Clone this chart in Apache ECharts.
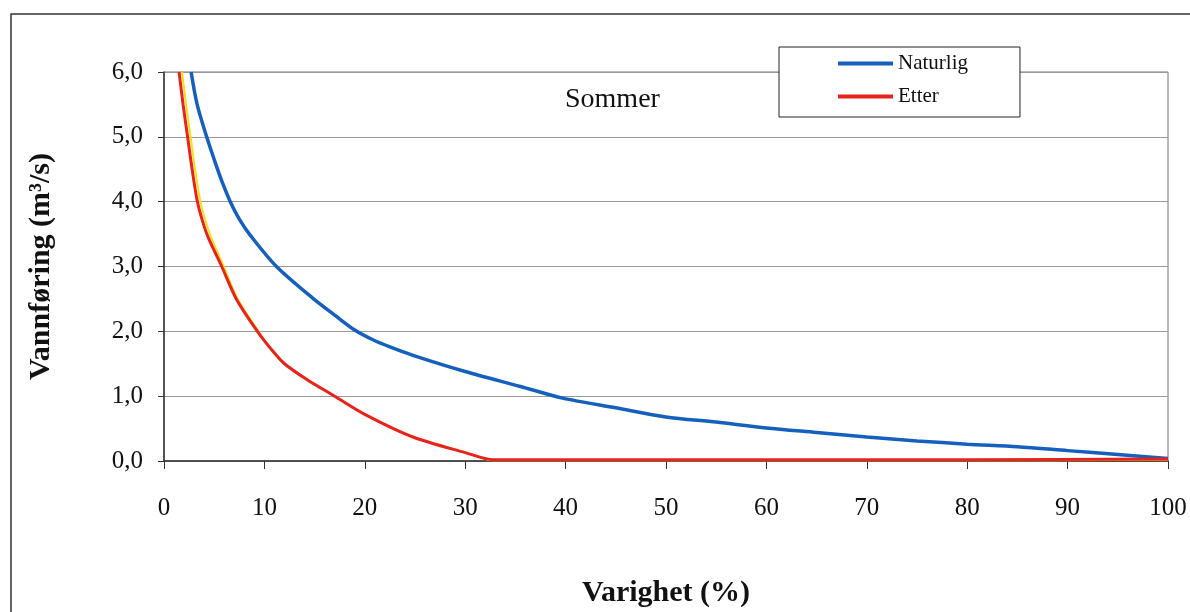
<!DOCTYPE html>
<html lang="no">
<head>
  <meta charset="UTF-8">
  <title>Varighetskurve sommer</title>
  <style>
    html, body { margin:0; padding:0; background:#fff; }
    #chart { width:1190px; height:612px; }
  </style>
</head>
<body>
  <div id="chart"></div>
  <script src="https://cdn.jsdelivr.net/npm/echarts@6/dist/echarts.min.js"></script>
  <script>
    // varighet (%) og vannføring (m3/s), lest av figuren
    var naturligPct = [2.7, 3.3, 4.25, 5.0, 5.8, 6.6, 7.5, 8.6, 11.2, 14.9, 17.0, 19.0, 20.8, 22.5, 24.8, 30, 35.5, 39.7, 45, 50, 55, 60, 65, 70, 75, 80, 85, 90, 95, 100]
    var naturligVal = [6.0, 5.5, 5.0, 4.65, 4.3, 4.0, 3.73, 3.48, 3.0, 2.5, 2.25, 2.02, 1.87, 1.76, 1.63, 1.38, 1.15, 0.97, 0.82, 0.68, 0.6, 0.51, 0.44, 0.37, 0.31, 0.26, 0.22, 0.16, 0.1, 0.04]

    var etterPct = [1.5, 1.9, 2.35, 2.8, 3.3, 3.8, 4.4, 5.75, 7.2, 9.3, 10.6, 12.0, 14.3, 17.0, 20, 24.8, 30, 32.8, 40, 60, 80, 100]
    var etterVal = [6.0, 5.5, 5.0, 4.5, 4.02, 3.72, 3.45, 3.0, 2.5, 2.0, 1.74, 1.5, 1.25, 1.0, 0.72, 0.37, 0.13, 0.02, 0.02, 0.02, 0.02, 0.03]

    // tynn gul linje som ligger rett ved siden av "Etter"
    var gulPct = [1.8, 2.2, 2.65, 3.1, 3.6, 4.1, 4.7, 5.95, 7.35, 9.4, 10.6, 12.0, 14.3, 17.0, 20, 24.8, 30, 32.8, 40, 60, 80, 100]
    var gulVal = [6.0, 5.5, 5.0, 4.5, 4.02, 3.72, 3.45, 3.0, 2.5, 2.0, 1.74, 1.5, 1.25, 1.0, 0.72, 0.37, 0.13, 0.01, 0.01, 0.01, 0.01, 0.02]

    var xTicks = [0, 10, 20, 30, 40, 50, 60, 70, 80, 90, 100]
    var yTicks = [0, 1, 2, 3, 4, 5, 6]

    function pairs(xs, ys) {
      return xs.map(function (x, i) { return [x, ys[i]] })
    }

    var serif = 'Liberation Serif'
    var myChart = echarts.init(document.getElementById('chart'))
    var option = {
      animation: false,
      backgroundColor: '#fff',
      textStyle: { fontFamily: serif },
      title: {
        text: 'Sommer',
        left: 565,
        top: 86,
        padding: 0,
        textStyle: { fontFamily: serif, fontWeight: 'normal', fontSize: 28, color: '#111' }
      },
      legend: {
        data: ['Naturlig', 'Etter'],
        orient: 'vertical',
        left: 779,
        top: 47,
        padding: [6, 52, 10, 59],
        itemGap: 12,
        itemWidth: 55,
        itemHeight: 4,
        icon: 'rect',
        backgroundColor: '#fff',
        borderColor: '#222',
        borderWidth: 1,
        borderRadius: 0,
        textStyle: { fontFamily: serif, fontSize: 21, color: '#111' }
      },
      grid: {
        left: 164,
        right: 22,
        top: 72,
        bottom: 151,
        outerBoundsMode: 'none',
        show: true,
        borderColor: '#777',
        borderWidth: 1
      },
      xAxis: {
        type: 'value',
        min: xTicks[0],
        max: xTicks[xTicks.length - 1],
        interval: 10,
        name: 'Varighet (%)',
        nameLocation: 'middle',
        nameGap: 117,
        nameTextStyle: { fontFamily: serif, fontSize: 30, fontWeight: 'bold', color: '#111' },
        axisLine: { lineStyle: { color: '#333', width: 1.5 } },
        axisTick: { show: true, length: 8, inside: false, lineStyle: { color: '#333' } },
        axisLabel: { margin: 35, fontSize: 25, color: '#111', fontFamily: serif },
        splitLine: { show: false }
      },
      yAxis: {
        type: 'value',
        min: yTicks[0],
        max: yTicks[yTicks.length - 1],
        interval: 1,
        name: 'Vannføring (m³/s)',
        nameLocation: 'middle',
        nameGap: 108,
        nameRotate: 90,
        nameTextStyle: { fontFamily: serif, fontSize: 30, fontWeight: 'bold', color: '#111' },
        axisLine: { show: true, lineStyle: { color: '#333', width: 1.5 } },
        axisTick: { show: true, length: 6, lineStyle: { color: '#333' } },
        axisLabel: {
          margin: 21,
          fontSize: 25,
          color: '#111',
          fontFamily: serif,
          formatter: function (v) { return v.toFixed(1).replace('.', ',') }
        },
        splitLine: { show: true, lineStyle: { color: '#999', width: 1 } }
      },
      series: [
        {
          name: 'gul',
          type: 'line',
          data: pairs(gulPct, gulVal),
          showSymbol: false,
          smooth: 0.3,
          z: 2,
          lineStyle: { color: '#f5e11a', width: 2 }
        },
        {
          name: 'Naturlig',
          type: 'line',
          data: pairs(naturligPct, naturligVal),
          showSymbol: false,
          smooth: 0.3,
          z: 3,
          itemStyle: { color: '#1560bd' },
          lineStyle: { color: '#1560bd', width: 3.5 }
        },
        {
          name: 'Etter',
          type: 'line',
          data: pairs(etterPct, etterVal),
          showSymbol: false,
          smooth: 0.3,
          z: 4,
          itemStyle: { color: '#e8231c' },
          lineStyle: { color: '#e8231c', width: 3 }
        }
      ],
      graphic: [
        {
          type: 'rect',
          silent: true,
          shape: { x: 11, y: 14, width: 1250, height: 700 },
          style: { fill: null, stroke: '#333', lineWidth: 1.5 }
        }
      ]
    }
    myChart.setOption(option)
  </script>
</body>
</html>
